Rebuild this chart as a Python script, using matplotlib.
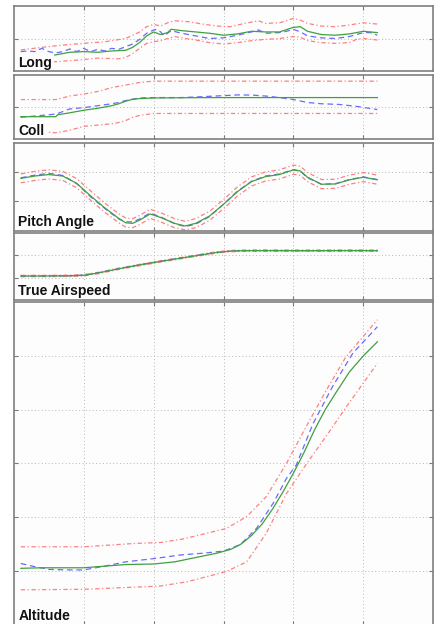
import matplotlib
matplotlib.use('Agg')
import matplotlib.pyplot as plt

# time axis in seconds
T_MAX = 60
T_TICKS = [10, 20, 30, 40, 50]

# --- Long (percent) ---
long_green_t = [1, 6, 8, 10, 12, 14, 16, 17, 18, 19, 20, 21, 22, 22.5, 24, 26, 28, 30, 32, 34, 36, 38, 40, 41, 42, 44, 46, 48, 50, 52]
long_green = [22, 25, 29, 30, 29, 31, 32, 36.5, 44, 54, 60, 56, 59, 64, 62, 60, 58, 55, 57, 61, 60, 60, 67, 68, 61, 56, 55, 57, 61, 59]
long_blue_t = [1, 2, 3, 4, 5, 6, 7, 8, 9, 10, 11, 12, 13, 14, 15, 16, 17, 18, 19, 20, 20.5, 21, 21.5, 22.5,
               24, 26, 28, 30, 32, 34, 35, 36, 38, 39, 40, 41, 42, 44, 46, 48, 50, 51, 52]
long_blue = [30, 31, 30, 35, 30, 28, 30, 34, 30, 35, 30, 33.5, 31, 35, 33.5, 37.5, 41.6, 48.7, 58, 63, 64, 60, 54, 62,
             58, 54, 50, 51, 55, 60, 63, 58, 59, 61, 64, 60, 54, 51, 50, 53, 59, 59, 55]
long_upper_t = [1, 4, 7, 10, 13, 16, 18, 19, 20, 21, 22, 23, 25, 27, 29, 31, 33, 35, 36, 38, 39, 40, 41, 42, 44, 46, 48, 50, 52]
long_upper = [32.5, 36.5, 40, 42.6, 45, 50, 60, 68, 71.5, 69, 74, 77, 75.6, 72, 69, 68, 73, 77, 73, 74, 77, 80.8, 78, 73, 69, 68, 70.6, 74, 72]
long_lower_t = [1, 6, 9, 12, 15, 16, 17, 18, 19, 20, 21, 22, 23, 24, 26, 28, 30, 32, 34, 36, 38, 40, 41, 42, 44, 46, 48, 49, 50, 52]
long_lower = [12, 14.7, 17, 20, 19, 21, 27, 35, 42.6, 45, 46.7, 50, 53, 51, 47.7, 43.7, 41.6, 43.7, 46.7, 48.7, 50, 53, 52, 46.7, 43.7, 42.6, 43.7, 48.7, 50, 47.7]

# --- Coll (percent) ---
coll_t = [1, 4, 6, 6.3, 8, 10, 12, 14, 15, 16, 17, 18, 20, 24, 27, 30, 32, 34, 36, 38, 40, 42, 44, 46.5, 49, 52]
coll_green = [35, 35, 35, 38, 41, 45, 48, 52, 55, 59, 62, 63, 64, 64.3, 64.5, 64.6, 64.6, 64.6, 64.6, 64.6, 64.6, 64.6, 64.6, 64.6, 64.6, 64.6]
coll_blue = [34, 37, 39, 40, 47, 49, 52, 55, 57, 60, 62, 64, 64.6, 64.6, 66, 67.6, 68.7, 68.5, 67, 64.6, 61.5, 57, 55, 54, 51, 46]
coll_upper = [61.5, 61.5, 61.5, 62, 67, 70, 74, 80, 82, 84, 86, 88, 90, 90, 90, 90, 90, 90, 90, 90, 90, 90, 90, 90, 90, 90]
coll_lower = [12, 12, 10, 10.5, 14, 20, 22, 24, 26, 29, 34, 37, 40, 40, 40, 40, 40, 40, 40, 40, 40, 40, 40, 40, 40, 40]

# --- Pitch Angle ---
pitch_t = [1, 3, 5, 7, 9, 11, 13, 15, 16, 17, 18, 19.5, 21, 23, 24.5, 26, 28, 30, 32, 34, 36, 38, 40, 41, 42, 44, 46, 48, 50, 52]
pitch_green = [1.78, 1.86, 1.91, 1.86, 1.61, 1.18, 0.78, 0.42, 0.27, 0.25, 0.36, 0.57, 0.45, 0.25, 0.16,
               0.25, 0.50, 0.90, 1.33, 1.67, 1.84, 1.91, 2.07, 2.03, 1.82, 1.58, 1.59, 1.73, 1.82, 1.73]
pitch_blue = [1.80, 1.89, 1.95, 1.88, 1.60, 1.15, 0.76, 0.40, 0.30, 0.30, 0.40, 0.60, 0.47, 0.24, 0.14,
              0.22, 0.48, 0.90, 1.35, 1.68, 1.86, 1.93, 2.08, 2.02, 1.80, 1.58, 1.60, 1.74, 1.83, 1.74]
pitch_upper = [1.93, 2.02, 2.07, 2.02, 1.77, 1.35, 0.94, 0.58, 0.43, 0.41, 0.52, 0.73, 0.61, 0.41, 0.32,
               0.41, 0.66, 1.06, 1.49, 1.83, 2.00, 2.07, 2.23, 2.19, 1.98, 1.74, 1.75, 1.89, 1.98, 1.89]
pitch_lower = [1.63, 1.71, 1.76, 1.71, 1.46, 1.03, 0.63, 0.27, 0.12, 0.10, 0.21, 0.42, 0.30, 0.10, 0.03,
               0.10, 0.35, 0.75, 1.18, 1.52, 1.69, 1.76, 1.92, 1.88, 1.67, 1.43, 1.44, 1.58, 1.67, 1.58]

# --- True Airspeed ---
tas_t = [1, 4, 8, 10, 12, 15, 18, 21, 24, 27, 29, 31, 33, 36, 40, 44, 48, 52]
tas_green = [1.07, 1.07, 1.08, 1.10, 1.20, 1.39, 1.56, 1.72, 1.87, 2.02, 2.12, 2.18, 2.20, 2.20, 2.20, 2.20, 2.20, 2.20]
tas_blue = [1.06, 1.07, 1.08, 1.11, 1.21, 1.40, 1.57, 1.73, 1.88, 2.03, 2.12, 2.18, 2.20, 2.21, 2.20, 2.20, 2.21, 2.20]
tas_upper = [1.10, 1.10, 1.11, 1.13, 1.23, 1.42, 1.59, 1.75, 1.90, 2.05, 2.15, 2.21, 2.23, 2.23, 2.23, 2.23, 2.23, 2.23]
tas_lower = [1.04, 1.04, 1.05, 1.07, 1.17, 1.36, 1.53, 1.69, 1.84, 1.99, 2.09, 2.15, 2.17, 2.17, 2.17, 2.17, 2.17, 2.17]

# --- Altitude ---
alt_green_t = [1, 4, 7, 10, 13, 16, 20, 23, 26, 29, 31, 32.5, 34, 35.5, 37, 38.5, 40, 41.5, 43, 44.5, 46, 48, 50, 52]
alt_green = [1.05, 1.06, 1.06, 1.06, 1.09, 1.12, 1.13, 1.17, 1.25, 1.33, 1.40, 1.50, 1.66, 1.87, 2.15, 2.47,
             2.82, 3.20, 3.62, 3.99, 4.30, 4.70, 5.00, 5.26]
alt_blue_t = [1, 3, 5, 8, 10, 13, 16, 20, 24, 27, 30, 32.4, 34.7, 37.1, 39, 40.4, 42.8, 45.6, 48.5, 52]
alt_blue = [1.14, 1.08, 1.03, 1.02, 1.02, 1.09, 1.17, 1.23, 1.30, 1.33, 1.37, 1.49, 1.79, 2.26, 2.72, 2.97, 3.74, 4.43, 5.05, 5.54]
alt_upper_t = [1, 10, 17, 21, 24, 26.6, 30.4, 33.3, 36.1, 39, 41.8, 44.7, 47.5, 52]
alt_upper = [1.45, 1.45, 1.51, 1.53, 1.59, 1.67, 1.79, 2.01, 2.38, 3.0, 3.68, 4.36, 4.98, 5.67]
alt_lower_t = [1, 10, 20.9, 24.8, 30.4, 33.3, 36.1, 39, 41.8, 44.7, 47.5, 52]
alt_lower = [0.65, 0.66, 0.72, 0.80, 0.99, 1.17, 1.70, 2.44, 2.98, 3.51, 4.04, 4.86]

GREEN = '#3fa03f'
BLUE = '#6a6aff'
RED = '#ff8080'

panels = [
    ('Long', (0, 100), [50],
     (long_green_t, long_green), (long_blue_t, long_blue), (long_upper_t, long_upper), (long_lower_t, long_lower)),
    ('Coll', (0, 100), [50],
     (coll_t, coll_green), (coll_t, coll_blue), (coll_t, coll_upper), (coll_t, coll_lower)),
    ('Pitch Angle', (0, 3), [1, 2],
     (pitch_t, pitch_green), (pitch_t, pitch_blue), (pitch_t, pitch_upper), (pitch_t, pitch_lower)),
    ('True Airspeed', (0, 3), [1, 2],
     (tas_t, tas_green), (tas_t, tas_blue), (tas_t, tas_upper), (tas_t, tas_lower)),
    ('Altitude', (0, 6), [1, 2, 3, 4, 5],
     (alt_green_t, alt_green), (alt_blue_t, alt_blue), (alt_upper_t, alt_upper), (alt_lower_t, alt_lower)),
]

# panel top/bottom edges in pixels
W, H = 435, 624
edges = [(5.7, 71.3), (74.7, 139.3), (142.5, 230.7), (232.7, 300.0), (302.0, 624.8)]
x0, x1 = 13.8, 433.3

fig = plt.figure(figsize=(W / 100, H / 100), dpi=100)
fig.patch.set_facecolor('white')

for (label, ylim, yticks, g, b, up, lo), (top, bot) in zip(panels, edges):
    ax = fig.add_axes([x0 / W, 1 - bot / H, (x1 - x0) / W, (bot - top) / H])
    ax.set_facecolor('#fdfdfd')

    ax.plot(up[0], up[1], color=RED, lw=0.9, dashes=(3.5, 2, 1, 2))
    ax.plot(lo[0], lo[1], color=RED, lw=0.9, dashes=(3.5, 2, 1, 2))
    ax.plot(b[0], b[1], color=BLUE, lw=0.9, dashes=(4.5, 3))
    ax.plot(g[0], g[1], color=GREEN, lw=0.9)

    ax.set_xlim(0, T_MAX)
    ax.set_ylim(*ylim)
    ax.set_xticks(T_TICKS)
    ax.set_yticks(yticks)
    ax.set_xticklabels([])
    ax.set_yticklabels([])
    ax.tick_params(direction='in', length=3, width=0.8, color='#7a7a7a',
                   top=True, right=True, bottom=True, left=True)
    ax.grid(True, linestyle=(0, (1, 2.5)), color='#b8b8b8', lw=0.7)
    for sp in ax.spines.values():
        sp.set_color('#7f7f7f')
        sp.set_linewidth(1.2)

    # label sits over the curves but under the frame
    ax.annotate(label, xy=(0, 0), xycoords='axes fraction', xytext=(4.5, 4.7),
                textcoords='offset pixels', ha='left', va='baseline',
                fontsize=10, fontweight='bold', family=['Liberation Sans', 'DejaVu Sans'],
                color='#111111', zorder=2.3,
                bbox=dict(boxstyle='square,pad=0.15', fc='#fdfdfd', ec='none'))

fig.savefig('out.png', dpi=100)
